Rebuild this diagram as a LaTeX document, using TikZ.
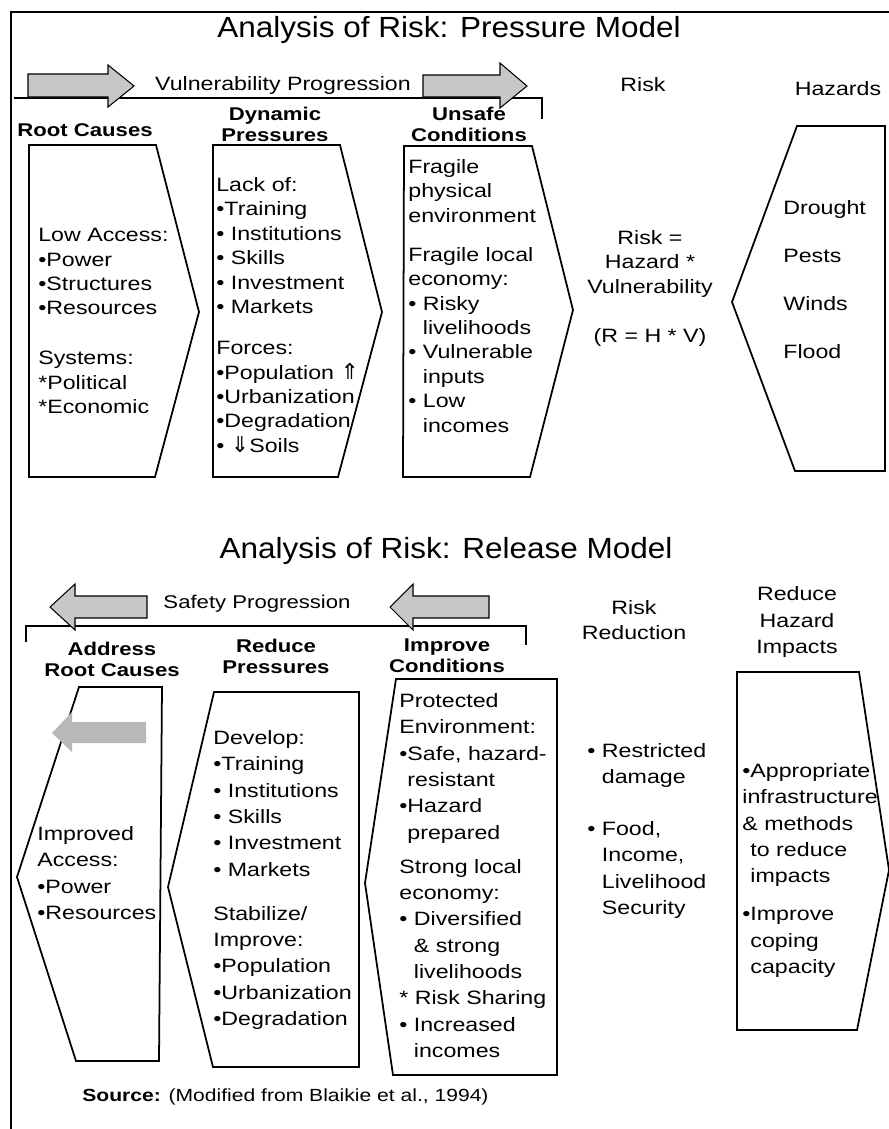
\documentclass[tikz,border=0pt]{standalone}
\usepackage{fontspec}
\setmainfont{Liberation Sans}[FakeStretch=1.2]
\newfontfamily\titlefont{Liberation Sans}[FakeStretch=1.08]
\newfontfamily\arrowfont{DejaVu Sans}
\usetikzlibrary{positioning}
\definecolor{arrowgray}{rgb}{.78,.78,.78}
\definecolor{innergray}{rgb}{.72,.72,.72}
\newcommand{\UpArr}{{\arrowfont\fontsize{12.5}{12}\selectfont ⇑}}
\newcommand{\DownArr}{{\arrowfont\fontsize{12.5}{12}\selectfont ⇓}}

\begin{document}
\begin{tikzpicture}[% styles for the whole picture
    x=0.02cm,y=-0.02cm,		% one unit is one pixel of the scan, y runs down
    every node/.style={inner sep=0pt},
    ttl/.style={font=\titlefont\fontsize{16.6}{20}\selectfont,anchor=base},
    hdr/.style={font=\bfseries\fontsize{10.5}{12}\selectfont,align=center},
    lbl/.style={font=\fontsize{11}{14.5}\selectfont,align=center},
    txt/.style={font=\fontsize{11}{13.9}\selectfont,align=left,anchor=north west},
    txtlow/.style={font=\fontsize{11}{15}\selectfont,align=left,anchor=north west},
    box/.style={draw,line width=1pt,line join=miter},
    blockarrow/.style={draw,line width=.6pt,fill=arrowgray}
  ]
  \useasboundingbox (0,0) rectangle (889,1129);

  % frame and brackets
  \draw[line width=1.2pt] (889,12) -- (11,12) -- (11,1129);
  \draw[line width=1pt] (14,98) -- (542,98) -- (542,119);
  \draw[line width=1pt] (26,642) -- (26,626) -- (526,626) -- (526,645);

  % ---------- pressure model ----------
  \node[ttl] (T1) at (449,37) {Analysis of Risk: Pressure Model};
  \draw[blockarrow] (28,74) -- (108,74) -- (108,65) -- (134,86) -- (108,107) -- (108,97) -- (28,97) -- cycle;
  \draw[blockarrow] (423,75) -- (500,75) -- (500,63) -- (527,86) -- (500,108) -- (500,97) -- (423,97) -- cycle;
  \node[lbl] (V1) at (283,86) {Vulnerability Progression};

  \node[hdr] (H1) at (85,130) {Root Causes};
  \node[hdr] (H2) at (275,124) {Dynamic\\Pressures};
  \node[hdr] (H3) at (469,124) {Unsafe\\Conditions};
  \node[lbl] (H4) at (643,85) {Risk};
  \node[lbl] (H5) at (838,89) {Hazards};

  \draw[box] (29,145) -- (156,145) -- (199,312) -- (155,477) -- (29,477) -- cycle;
  \draw[box] (213,145) -- (340,145) -- (382,312) -- (338,477) -- (213,477) -- cycle;
  \draw[box] (404,146) -- (532,146) -- (573,310) -- (530,477) -- (403,477) -- cycle;
  \draw[box] (797,126) -- (885,126) -- (885,471) -- (795,471) -- (732,302) -- cycle;

  \node[txt] (B1) at (38,228) {Low Access:\\•Power\\•Structures\\•Resources\\[14.5pt]
    Systems:\\*Political\\*Economic};
  \node[txt] (B2) at (216,177) {Lack of:\\•Training\\• Institutions\\• Skills\\• Investment\\• Markets\\[9.5pt]
    Forces:\\•Population \UpArr\\•Urbanization\\•Degradation\\• \DownArr Soils};
  \node[txt] (B3) at (408,159) {Fragile\\physical\\environment\\[8.3pt]
    Fragile local\\economy:\\• Risky\\\phantom{• }livelihoods\\• Vulnerable\\\phantom{• }inputs\\• Low\\\phantom{• }incomes};
  \node[txt,align=center,anchor=north] (B4) at (650,230) {Risk =\\Hazard *\\Vulnerability\\[13.9pt](R = H * V)};
  \node[txt] (B5) at (783,200) {Drought\\[13.5pt]Pests\\[13.5pt]Winds\\[13.5pt]Flood};

  % ---------- release model ----------
  \node[ttl] (T2) at (446,558) {Analysis of Risk: Release Model};
  \draw[blockarrow] (147,596) -- (75,596) -- (75,584) -- (50,607) -- (75,630) -- (75,618) -- (147,618) -- cycle;
  \draw[blockarrow] (489,596) -- (413,596) -- (413,584) -- (390,607) -- (413,630) -- (413,618) -- (489,618) -- cycle;
  \node[lbl,font=\fontsize{10.5}{13}\selectfont] (S1) at (257,604) {Safety Progression};

  \node[hdr] (H6) at (112,659) {Address\\Root Causes};
  \node[hdr] (H7) at (276,656) {Reduce\\Pressures};
  \node[hdr] (H8) at (447,656) {Improve\\Conditions};
  \node[lbl,font=\fontsize{11}{14.2}\selectfont] (H9) at (634,620) {Risk\\Reduction};
  \node[lbl,font=\fontsize{11}{15}\selectfont] (H10) at (797,622) {Reduce\\Hazard\\Impacts};

  \draw[box] (79,687) -- (162,687) -- (159,1061) -- (76,1061) -- (17,877) -- cycle;
  \draw[box] (214,692) -- (359,692) -- (359,1067) -- (213,1067) -- (168,887) -- cycle;
  \draw[box] (396,679) -- (557,679) -- (557,1075) -- (393,1075) -- (365,883) -- cycle;
  \draw[box] (737,672) -- (859,672) -- (889,870) -- (857,1030) -- (737,1030) -- cycle;
  \fill[innergray] (146,722) -- (72,722) -- (72,712) -- (52,733) -- (72,752) -- (72,743) -- (146,743) -- cycle;

  \node[txtlow] (B6) at (37,826) {Improved\\Access:\\•Power\\•Resources};
  \node[txtlow] (B7) at (213,730) {Develop:\\•Training\\• Institutions\\• Skills\\• Investment\\• Markets\\[10pt]
    Stabilize/\\Improve:\\•Population\\•Urbanization\\•Degradation};
  \node[txtlow] (B8) at (399,693) {Protected\\Environment:\\•Safe, hazard-\\\phantom{•}resistant\\•Hazard\\\phantom{•}prepared\\[4.3pt]
    Strong local\\economy:\\• Diversified\\\phantom{• }\& strong\\\phantom{• }livelihoods\\* Risk Sharing\\• Increased\\\phantom{• }incomes};
  \node[txtlow] (B9) at (587,743) {• Restricted\\\phantom{• }damage\\[14.5pt]
    • Food,\\\phantom{• }Income,\\\phantom{• }Livelihood\\\phantom{• }Security};
  \node[txtlow] (B10) at (742,763) {•Appropriate\\infrastructure\\\& methods\\\phantom{•}to reduce\\\phantom{•}impacts\\[6.6pt]
    •Improve\\\phantom{•}coping\\\phantom{•}capacity};

  \node[anchor=west,font=\fontsize{10}{12}\selectfont] (SRC) at (82,1097) {\textbf{Source:} (Modified from Blaikie et al., 1994)};
\end{tikzpicture}
\end{document}
